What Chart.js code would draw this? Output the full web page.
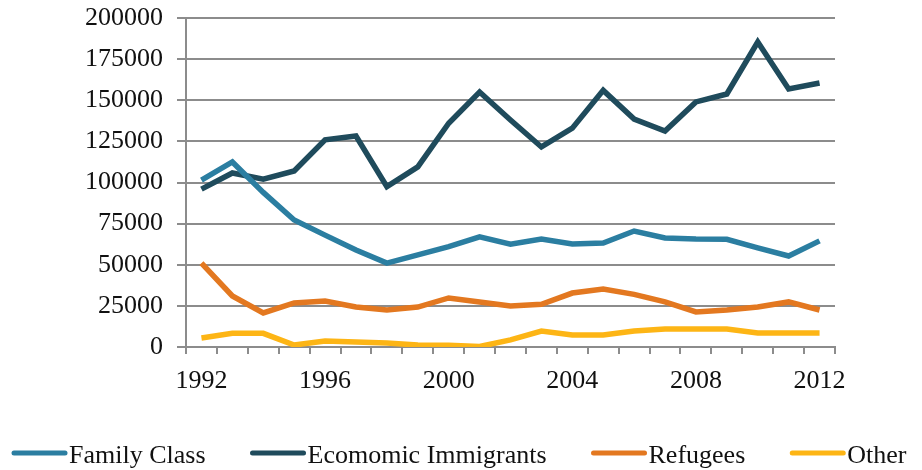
<!DOCTYPE html>
<html>
<head>
<meta charset="utf-8">
<script src="https://cdn.jsdelivr.net/npm/chart.js@4"></script>
<style>
  html, body { margin: 0; padding: 0; background: #fff; }
  #wrap { width: 922px; height: 470px; }
</style>
</head>
<body>
<div id="wrap"><canvas id="immChart"></canvas></div>
<script>
const years = [];
for (let y = 1992; y <= 2012; y++) years.push(String(y));

const familyClass = [101500, 112500, 94000, 77200, 68000, 59000, 51000, 56000, 61000, 67000, 62500,
  65700, 62600, 63200, 70500, 66300, 65600, 65500, 60200, 55300, 64500];
const economic = [96000, 105800, 102000, 107000, 125900, 128300, 97500, 109500, 136000, 155000, 138000,
  121600, 133000, 156000, 138600, 131300, 149000, 153800, 185400, 156800, 160500];
const refugees = [51000, 31000, 20700, 26800, 28000, 24300, 22500, 24300, 29800, 27400, 25000,
  26000, 32800, 35300, 32000, 27400, 21300, 22500, 24300, 27400, 22500];
const other = [5500, 8300, 8300, 1200, 3600, 3000, 2400, 1200, 1000, 300, 4300,
  9700, 7300, 7300, 9700, 10900, 10900, 10900, 8500, 8500, 8500];

const yTicks = [0, 25000, 50000, 75000, 100000, 125000, 150000, 175000, 200000];

const serif = '"Liberation Serif", "Times New Roman", serif';
const fontSize = 26;
const gridColor = '#8c8c8c';
const textColor = '#111';

function series(label, data, color) {
  return {
    label,
    data,
    borderColor: color,
    backgroundColor: color,
    borderWidth: 5.5,
    pointRadius: 0,
    tension: 0,
    borderJoinStyle: 'miter'
  };
}

// legend drawn as a run of line swatches with the label right after each one
const lineLegend = {
  id: 'lineLegend',
  afterDraw(chart) {
    const ctx = chart.ctx;
    const y = 453;
    let x = 12;
    ctx.save();
    ctx.font = fontSize + 'px ' + serif;
    ctx.textBaseline = 'middle';
    chart.data.datasets.forEach(ds => {
      ctx.strokeStyle = ds.borderColor;
      ctx.lineWidth = 5;
      ctx.lineCap = 'round';
      ctx.beginPath();
      ctx.moveTo(x + 2, y);
      ctx.lineTo(x + 53, y);
      ctx.stroke();
      x += 57;
      ctx.fillStyle = textColor;
      ctx.fillText(ds.label, x, y + 3);
      x += ctx.measureText(ds.label).width + 45;
    });
    ctx.restore();
  }
};

new Chart(document.getElementById('immChart'), {
  type: 'line',
  data: {
    labels: years,
    datasets: [
      series('Family Class', familyClass, '#2b7ea1'),
      series('Ecomomic Immigrants', economic, '#1f4b5c'),
      series('Refugees', refugees, '#e37820'),
      series('Other', other, '#fdb515')
    ]
  },
  plugins: [lineLegend],
  options: {
    responsive: true,
    maintainAspectRatio: false,
    animation: false,
    layout: { padding: { top: 18, right: 87, left: 0, bottom: 73 } },
    plugins: {
      tooltip: { enabled: false },
      legend: { display: false }
    },
    scales: {
      x: {
        offset: true,
        grid: {
          offset: true,
          drawOnChartArea: false,
          color: gridColor,
          lineWidth: 2,
          tickLength: 7
        },
        border: { color: gridColor, width: 2 },
        ticks: {
          autoSkip: false,
          maxRotation: 0,
          font: { family: serif, size: fontSize },
          color: textColor,
          padding: 12,
          callback: (v, i) => (i % 4 === 0 ? years[i] : '')
        },
        afterFit: s => { s.height = 50; }
      },
      y: {
        min: 0,
        max: 200000,
        afterBuildTicks: s => { s.ticks = yTicks.map(v => ({ value: v })); },
        grid: { color: gridColor, lineWidth: 2, tickLength: 9 },
        border: { color: gridColor, width: 2 },
        ticks: {
          font: { family: serif, size: fontSize },
          color: textColor,
          padding: 14,
          callback: v => String(v)
        },
        afterFit: s => {
          s.width = 186;
          s.paddingTop = 0;
          s.paddingBottom = 0;
        }
      }
    }
  }
});
</script>
</body>
</html>
